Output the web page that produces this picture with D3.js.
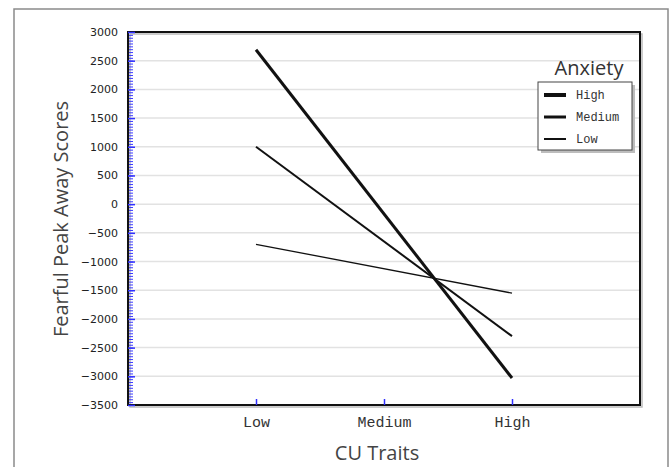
<!DOCTYPE html>
<html>
<head>
<meta charset="utf-8">
<script src="https://cdn.jsdelivr.net/npm/d3@7"></script>
<style>
  body { margin: 0; background: #fff; }
  svg { display: block; }
</style>
</head>
<body>
<div id="chart"></div>
<script>
// CU traits on the x axis, anxiety level as separate lines
const categories = ['Low', 'Medium', 'High'];
const anxietyLevels = ['High', 'Medium', 'Low'];
// values at CU Low and CU High (no point drawn at Medium)
const highAnxiety = [2690, -3030];
const mediumAnxiety = [1000, -2300];
const lowAnxiety = [-700, -1550];
const lineCats = ['Low', 'High'];
const yTicks = [-3500, -3000, -2500, -2000, -1500, -1000, -500, 0, 500, 1000, 1500, 2000, 2500, 3000];

const width = 669;
const height = 467;
const margin = { top: 32, right: 29, bottom: 62, left: 128 };
const innerW = width - margin.left - margin.right;
const innerH = height - margin.top - margin.bottom;

const svg = d3.select('#chart').append('svg')
  .attr('width', width)
  .attr('height', height);

// outer frame
svg.append('rect')
  .attr('x', 14).attr('y', 9)
  .attr('width', 654).attr('height', 470)
  .attr('fill', 'none')
  .attr('stroke', '#8a8a8a')
  .attr('stroke-width', 1.5);

const g = svg.append('g')
  .attr('transform', `translate(${margin.left},${margin.top})`);

const x = d3.scaleLinear().domain([0, 4]).range([0, innerW]);
const catIndex = c => categories.indexOf(c) + 1;
const y = d3.scaleLinear().domain([-3500, 3000]).range([innerH, 0]);

// grid
g.selectAll('.grid')
  .data(yTicks.slice(1, -1))
  .enter().append('line')
  .attr('class', 'grid')
  .attr('x1', 0).attr('x2', innerW)
  .attr('y1', d => y(d)).attr('y2', d => y(d))
  .attr('stroke', '#e2e2e2')
  .attr('stroke-width', 1.5);

// plot border with slight shadow
g.append('rect')
  .attr('x', 2).attr('y', 2)
  .attr('width', innerW).attr('height', innerH)
  .attr('fill', 'none')
  .attr('stroke', '#bbb')
  .attr('stroke-width', 1.5);
g.append('rect')
  .attr('width', innerW).attr('height', innerH)
  .attr('fill', 'none')
  .attr('stroke', '#111')
  .attr('stroke-width', 2);

// minor ticks on left
const minor = g.append('g')
  .attr('transform', 'translate(1,0)')
  .call(d3.axisLeft(y).tickValues(d3.range(-3450, 3000, 50)).tickSize(-4).tickFormat(''));
minor.select('.domain').remove();
minor.selectAll('line').attr('stroke', '#3a3aff').attr('stroke-width', 1);

// major y axis
const yAxis = g.append('g')
  .call(d3.axisLeft(y).tickValues(yTicks).tickSize(-7).tickPadding(10).tickFormat(d3.format('d')));
yAxis.select('.domain').remove();
yAxis.selectAll('line').attr('stroke', '#3030ff').attr('stroke-width', 1.5);
yAxis.selectAll('text')
  .attr('font-family', 'DejaVu Sans, sans-serif')
  .attr('font-size', 11)
  .attr('fill', '#222');

// x axis
const xAxis = g.append('g')
  .attr('transform', `translate(0,${innerH})`)
  .call(d3.axisBottom(x).tickValues(categories.map(catIndex))
    .tickFormat(d => categories[d - 1]).tickSize(-6).tickPadding(11));
xAxis.select('.domain').remove();
xAxis.selectAll('line').attr('stroke', '#3030ff').attr('stroke-width', 1.5);
xAxis.selectAll('text')
  .attr('font-family', 'Liberation Mono, DejaVu Sans Mono, monospace')
  .attr('font-size', 15)
  .attr('fill', '#333');

// lines
const series = [
  { name: 'High', values: highAnxiety, w: 3 },
  { name: 'Medium', values: mediumAnxiety, w: 2 },
  { name: 'Low', values: lowAnxiety, w: 1.3 }
];

const line = d3.line()
  .x((d, i) => x(catIndex(lineCats[i])))
  .y(d => y(d));

g.selectAll('.series')
  .data(series)
  .enter().append('path')
  .attr('class', 'series')
  .attr('d', d => line(d.values))
  .attr('fill', 'none')
  .attr('stroke', '#111')
  .attr('stroke-width', d => d.w);

// legend
const legend = svg.append('g').attr('transform', 'translate(538,82)');
legend.append('rect')
  .attr('x', 3).attr('y', 3).attr('width', 94).attr('height', 68)
  .attr('fill', '#bdbdbd');
legend.append('rect')
  .attr('width', 94).attr('height', 68)
  .attr('fill', '#fff')
  .attr('stroke', '#444')
  .attr('stroke-width', 1);

svg.append('text')
  .attr('x', 589).attr('y', 75)
  .attr('text-anchor', 'middle')
  .attr('font-family', 'Open Sans, sans-serif')
  .attr('font-size', 20)
  .attr('fill', '#333')
  .text('Anxiety');

const legendW = [4, 3, 2];
const item = legend.selectAll('.item')
  .data(anxietyLevels)
  .enter().append('g')
  .attr('transform', (d, i) => `translate(0,${13 + i * 22})`);
item.append('line')
  .attr('x1', 6).attr('x2', 28)
  .attr('stroke', '#111')
  .attr('stroke-width', (d, i) => legendW[i]);
item.append('text')
  .attr('x', 38).attr('dy', '0.35em')
  .attr('font-family', 'Liberation Mono, DejaVu Sans Mono, monospace')
  .attr('font-size', 12)
  .attr('fill', '#333')
  .text(d => d);

// axis titles
svg.append('text')
  .attr('transform', 'translate(68,219) rotate(-90)')
  .attr('text-anchor', 'middle')
  .attr('font-family', 'Open Sans, sans-serif')
  .attr('font-size', 20)
  .attr('fill', '#444')
  .text('Fearful Peak Away Scores');

svg.append('text')
  .attr('x', 377).attr('y', 460)
  .attr('text-anchor', 'middle')
  .attr('font-family', 'Open Sans, sans-serif')
  .attr('font-size', 20)
  .attr('fill', '#444')
  .text('CU Traits');
</script>
</body>
</html>
